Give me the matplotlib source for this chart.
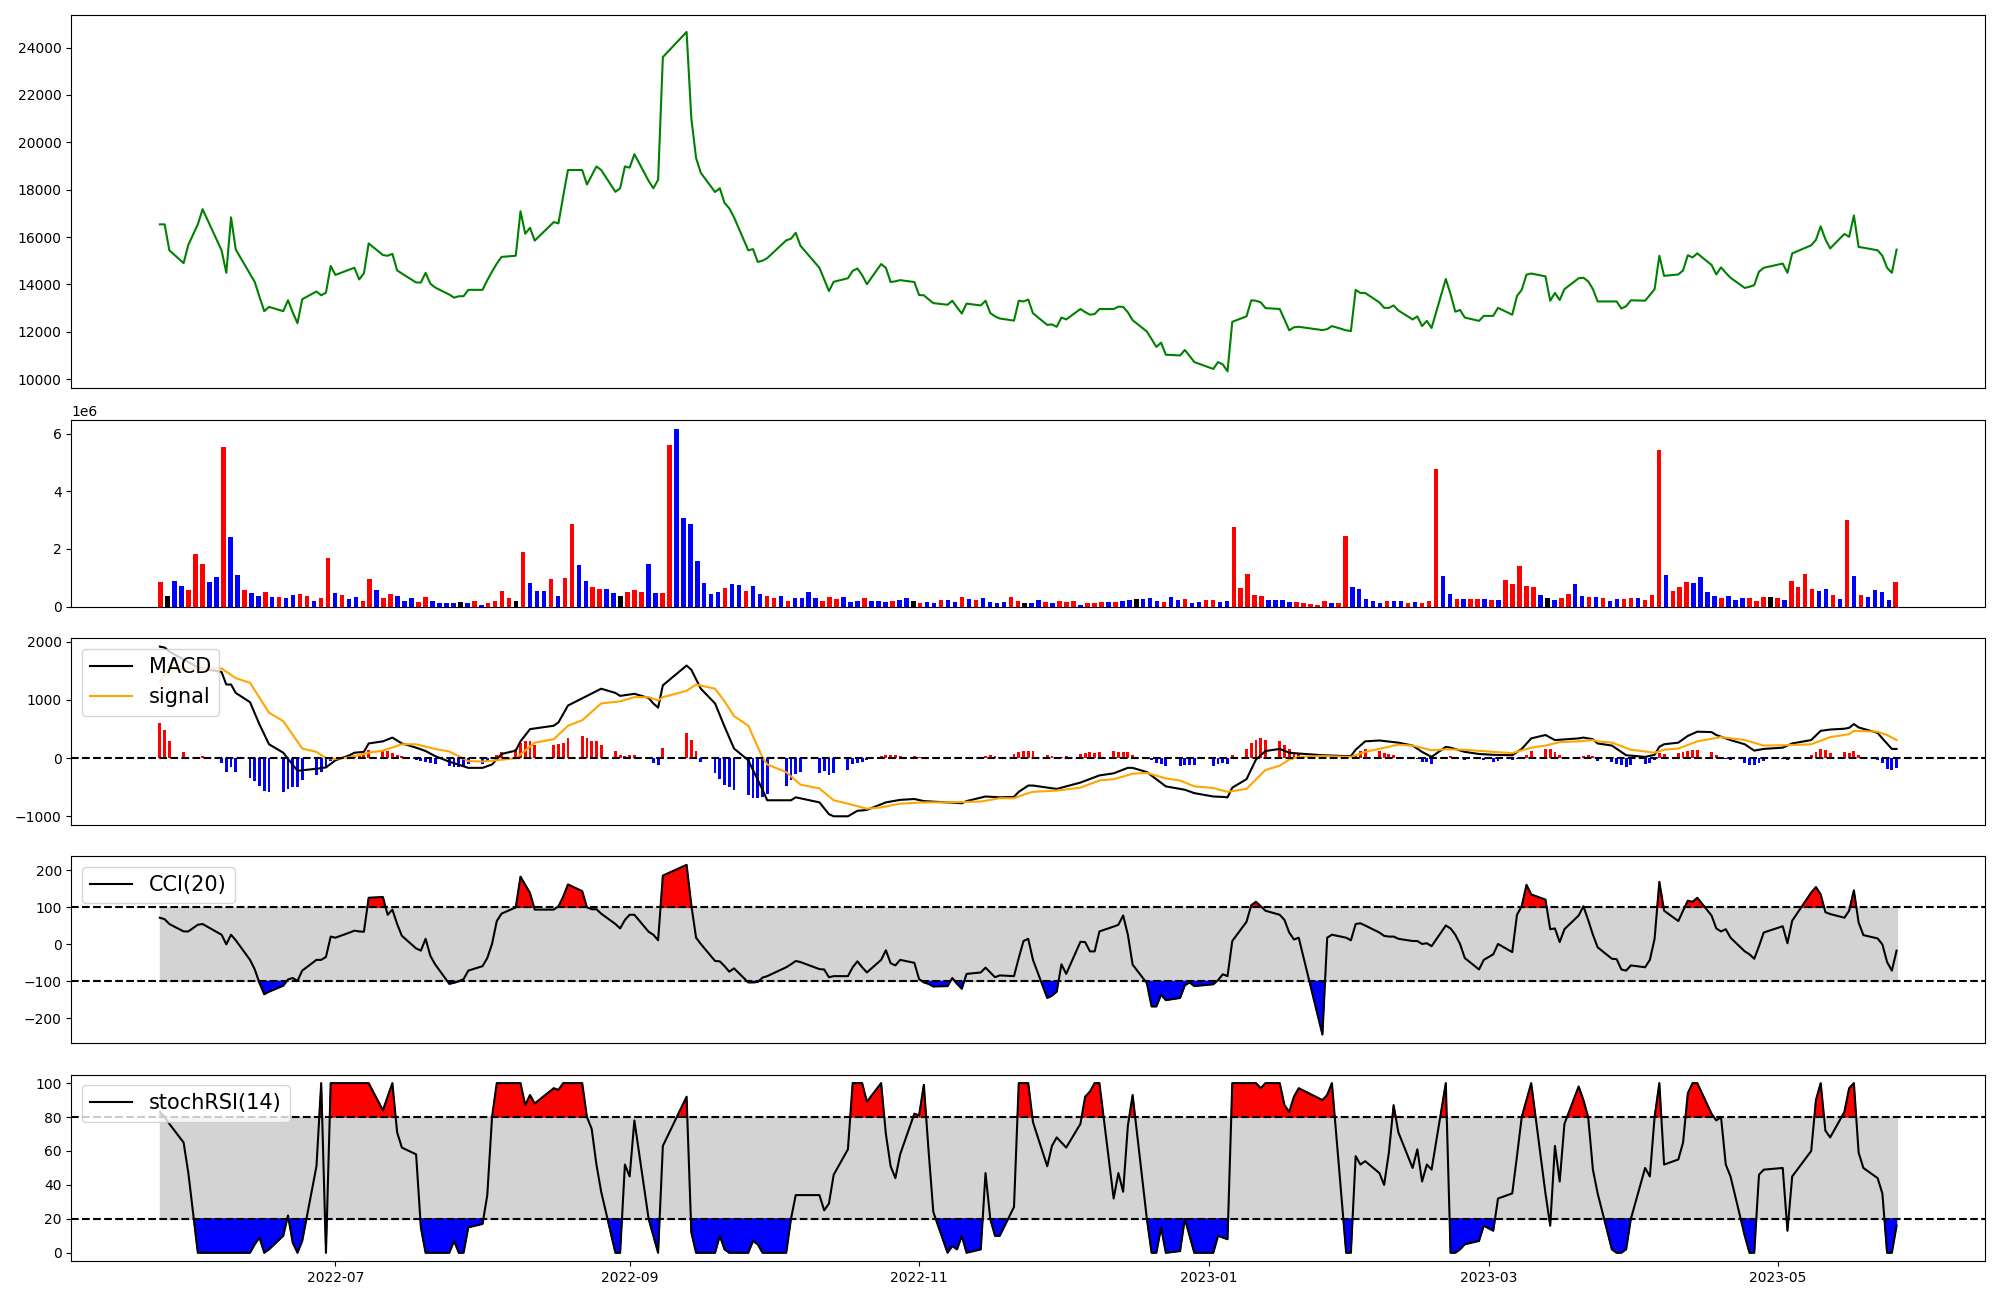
import matplotlib.pyplot as plt
import numpy as np
import pandas as pd

# KRX trading days, 2022-05-25 .. 2023-05-26
krx_holidays = ['2022-06-01', '2022-06-06', '2022-08-15', '2022-09-09', '2022-09-12',
                '2022-10-03', '2022-10-10', '2022-12-30', '2023-01-23', '2023-01-24',
                '2023-03-01', '2023-05-01', '2023-05-05']
dates = pd.bdate_range('2022-05-25', '2023-05-26')
dates = dates[~dates.isin(pd.to_datetime(krx_holidays))]

# closing price
close = [16535, 16535, 15440, 14900, 15670, 16535, 17175, 15440, 14490, 16830,
         15470, 14440, 14100, 13470, 12870, 13050, 12870, 13330, 12820, 12360,
         13375, 13700, 13540, 13650, 14780, 14400, 14630, 14700, 14210, 14470,
         15730, 15240, 15210, 15290, 14590, 14460, 14080, 14080, 14490, 14030,
         13870, 13570, 13440, 13500, 13500, 13770, 13770, 14180, 14540, 14880,
         15160, 15210, 17090, 16140, 16390, 15850, 16630, 16580, 17730, 18830,
         18830, 18220, 18600, 18980, 18830, 17910, 18060, 18980, 18930, 19500,
         18370, 18060, 18420, 23600, 24660, 21010, 19340, 18710, 17900, 18060,
         17440, 17210, 16830, 15440, 15490, 14950, 15000, 15110, 15860, 15930,
         16180, 15630, 14700, 14210, 13720, 14110, 14260, 14570, 14670, 14390,
         14010, 14860, 14700, 14100, 14130, 14180, 14100, 13550, 13540, 13370,
         13210, 13140, 13310, 13030, 12770, 13190, 13110, 13310, 12790, 12650,
         12560, 12470, 13310, 13280, 13360, 12780, 12290, 12310, 12210, 12600,
         12520, 12960, 12830, 12720, 12750, 12960, 12960, 13060, 13050, 12820,
         12490, 12010, 11690, 11360, 11540, 11030, 11000, 11230, 10980, 10720,
         10430, 10720, 10620, 10330, 12420, 12650, 13330, 13310, 13240, 13000,
         12960, 12520, 12060, 12190, 12210, 12070, 12110, 12240, 12060, 12030,
         13770, 13640, 13640, 13240, 13010, 13010, 13110, 12900, 12520, 12650,
         12240, 12460, 12160, 14230, 13590, 12850, 12920, 12600, 12460, 12670,
         12670, 13010, 12720, 13510, 13770, 14410, 14460, 14340, 13310, 13640,
         13340, 13800, 14260, 14280, 14130, 13800, 13280, 13280, 13280, 12980,
         13080, 13330, 13310, 13550, 13800, 15210, 14360, 14420, 14590, 15230,
         15140, 15310, 14820, 14420, 14720, 14490, 14280, 13850, 13900, 13970,
         14540, 14700, 14880, 14490, 15310, 15650, 15880, 16450, 15900, 15520,
         16130, 16010, 16910, 15580, 15550, 15440, 15210, 14700, 14490, 15470]

# volume in millions of shares, and bar colour (r = up, b = down, k = flat)
volume_m = [0.85, 0.35, 0.89, 0.71, 0.58, 1.83, 1.48, 0.85, 1.02, 5.55,
            2.40, 1.09, 0.58, 0.46, 0.35, 0.50, 0.32, 0.32, 0.28, 0.39,
            0.43, 0.35, 0.18, 0.28, 1.70, 0.46, 0.39, 0.26, 0.32, 0.18,
            0.96, 0.57, 0.28, 0.43, 0.35, 0.18, 0.28, 0.15, 0.32, 0.18,
            0.11, 0.11, 0.11, 0.15, 0.11, 0.18, 0.07, 0.11, 0.18, 0.53,
            0.28, 0.18, 1.90, 0.81, 0.53, 0.53, 0.96, 0.35, 0.98, 2.86,
            1.44, 0.89, 0.67, 0.61, 0.61, 0.46, 0.35, 0.50, 0.57, 0.50,
            1.48, 0.46, 0.46, 5.61, 6.17, 3.07, 2.86, 1.59, 0.81, 0.43,
            0.50, 0.63, 0.78, 0.74, 0.53, 0.71, 0.43, 0.35, 0.28, 0.35,
            0.18, 0.28, 0.28, 0.50, 0.28, 0.18, 0.32, 0.26, 0.32, 0.15,
            0.18, 0.28, 0.18, 0.18, 0.15, 0.18, 0.22, 0.28, 0.18, 0.11,
            0.15, 0.11, 0.22, 0.22, 0.15, 0.32, 0.26, 0.22, 0.28, 0.15,
            0.11, 0.15, 0.32, 0.18, 0.11, 0.11, 0.22, 0.15, 0.11, 0.18,
            0.15, 0.18, 0.07, 0.11, 0.11, 0.15, 0.15, 0.15, 0.18, 0.22,
            0.26, 0.26, 0.28, 0.18, 0.15, 0.32, 0.22, 0.26, 0.11, 0.15,
            0.22, 0.22, 0.15, 0.18, 2.75, 0.63, 1.13, 0.39, 0.35, 0.22,
            0.22, 0.22, 0.15, 0.15, 0.11, 0.09, 0.07, 0.18, 0.11, 0.11,
            2.45, 0.67, 0.61, 0.26, 0.18, 0.11, 0.18, 0.18, 0.18, 0.11,
            0.15, 0.11, 0.18, 4.76, 1.07, 0.43, 0.26, 0.26, 0.26, 0.26,
            0.26, 0.22, 0.22, 0.92, 0.78, 1.42, 0.71, 0.67, 0.39, 0.28,
            0.22, 0.28, 0.43, 0.78, 0.35, 0.32, 0.32, 0.28, 0.18, 0.26,
            0.26, 0.28, 0.28, 0.22, 0.39, 5.43, 1.09, 0.53, 0.67, 0.85,
            0.81, 1.02, 0.50, 0.35, 0.28, 0.35, 0.22, 0.28, 0.28, 0.18,
            0.32, 0.32, 0.28, 0.22, 0.89, 0.67, 1.13, 0.61, 0.53, 0.61,
            0.39, 0.26, 2.99, 1.07, 0.39, 0.32, 0.57, 0.50, 0.22, 0.85]
volume_dir = ("rkbbrrrbbrbbrbbrbrbbrrbrrbrbbrrbrrbbbrrbbb"
              "bkbrbrrrrkrbbbrbrrbbrrbbkrrrbbrrbbbbbbbrb"
              "brbbrrbrbbbbrrrbbbrbbbrbbkrbbrbbrbrbbbbrr"
              "kbbrbrrrbrrrbrbbkbbbrbbrbbrrbbrrrrrbbbbrrrr"
              "rbrrbbbbbrbbrbrrrbbrbrrbrbrrrrrbkbrrbbrbr"
              "bbrrbrrrbrrrbbbbrbbbrrrkrbrrrrbbrbrbrbbbbr")

# MACD / signal lines (trading-day index, value)
macd_idx = [0, 1, 2, 4, 5, 7, 8, 9, 10, 11, 13, 15, 16, 19, 21, 23, 25, 26, 27, 29,
            30, 31, 33, 35, 36, 38, 40, 41, 45, 46, 48, 50, 51, 52, 54, 56, 57, 59,
            61, 64, 65, 66, 69, 70, 71, 72, 73, 74, 75, 77, 78, 80, 82, 83, 86, 87,
            89, 90, 92, 94, 95, 96, 98, 100, 102, 105, 106, 108, 111, 114, 115, 117,
            120, 121, 122, 124, 125, 128, 131, 135, 136, 139, 140, 141, 143, 145,
            147, 149, 150, 152, 153, 154, 155, 157, 159, 160, 162, 164, 165, 168,
            169, 170, 172, 173, 177, 178, 180, 182, 183, 184, 187, 188, 190, 192,
            194, 196, 197, 199, 202, 203, 205, 206, 207, 210, 212, 214, 215, 216,
            217, 219, 221, 222, 223, 226, 227, 229, 231, 232, 234, 235, 237, 239,
            240, 241, 242, 243, 245, 246, 248, 249]
macd_val = [1916, 1900, 1830, 1650, 1560, 1480, 1265, 1265, 1120, 962, 578, 239, 94, -217,
            -181, -159, -36, 51, 94, 108, 253, 289, 354, 253, 181, 123, 36, -60, -166,
            -166, -108, 72, 130, 289, 499, 557, 615, 904, 1070, 1193, 1121, 1070, 1106,
            1034, 940, 868, 1251, 1591, 1518, 1193, 940, 542, 166, -36, -542, -723,
            -723, -672, -759, -962, -998, -998, -904, -889, -759, -716, -701, -737,
            -759, -774, -737, -658, -672, -665, -578, -470, -470, -528, -419, -296,
            -260, -166, -166, -239, -361, -484, -542, -600, -658, -665, -672, -506,
            -361, -22, 123, 159, 94, 80, 51, 36, 36, 145, 289, 304, 267, 217, 108, 22,
            195, 181, 108, 72, 58, 51, 159, 340, 398, 311, 340, 354, 325, 253, 217,
            51, 22, 58, 195, 239, 267, 383, 455, 448, 398, 311, 239, 130, 159, 181,
            253, 311, 470, 492, 506, 521, 586, 528, 434, 340, 159, 159]
signal_idx = [0, 2, 3, 7, 10, 11, 15, 16, 20, 21, 23, 25, 26, 30, 31, 35, 36, 40, 41, 45,
              46, 49, 51, 55, 56, 59, 60, 64, 66, 69, 70, 72, 73, 74, 76, 78, 80, 82,
              83, 86, 87, 88, 91, 92, 95, 96, 100, 101, 105, 108, 111, 116, 120, 121,
              124, 125, 128, 131, 135, 136, 140, 141, 145, 146, 149, 150, 153, 155,
              159, 160, 162, 164, 165, 169, 172, 177, 178, 182, 183, 187, 190, 192,
              196, 197, 200, 202, 205, 206, 207, 211, 214, 216, 217, 221, 224, 227,
              231, 233, 235, 239, 241, 242, 245, 247, 249]
signal_val = [1323, 1504, 1540, 1540, 1374, 1294, 781, 636, 166, 108, 0, -10, 14, 94, 130,
              239, 239, 159, 115, -51, -58, -36, 0, 267, 325, 557, 651, 940, 976, 1048,
              1048, 991, 1048, 1157, 1265, 1193, 976, 723, 557, 14, -108, -239, -455,
              -520, -723, -781, -868, -846, -781, -759, -759, -745, -687, -687, -600,
              -578, -557, -506, -383, -361, -267, -253, -347, -383, -484, -513, -578,
              -528, -202, -130, -22, 22, 36, 22, 108, 231, 217, 137, 152, 145, 108, 87,
              181, 217, 275, 289, 311, 289, 267, 145, 94, 145, 166, 289, 362, 311, 217,
              224, 239, 362, 412, 470, 455, 398, 311]

# MACD histogram, one bar per trading day
macd_hist = [600, 477, 289, 101, 5, 5, 29, -87, -231, -159,
             -231, -333, -398, -484, -564, -578, -578, -528, -492, -492,
             -383, -296, -231, -159, -40, 10, 20, 58, 36, 50,
             145, 145, 130, 87, 58, 29, -29, -51, -65, -80,
             -108, -140, -159, -159, -159, -108, -94, -58, -20, 51,
             108, 150, 267, 289, 289, 224, 224, 246, 267, 354,
             376, 340, 296, 289, 231, 123, 58, 43, 51, 51,
             0, -80, -123, 173, 441, 318, 116, -72, -246, -354,
             -455, -492, -542, -629, -680, -687, -672, -614, -484, -376,
             -267, -231, -253, -224, -289, -260, -202, -108, -80, -58,
             -36, 29, 58, 58, 58, 43, 36, 20, 15, 5,
             -5, -5, 0, 5, 10, 5, 20, 36, 51, 36,
             20, 80, 108, 123, 123, 116, 51, 36, 15, 20,
             29, 80, 87, 101, 94, 108, 116, 108, 108, 101,
             58, 0, -36, -80, -94, -137, -130, -116, -123, -116,
             -137, -108, -80, -94, 51, 166, 267, 311, 340, 311,
             289, 231, 152, 94, 72, 10, 10, 5, 5, 5,
             58, 116, 159, 130, 87, 72, 51, 14, 0, -14,
             -58, -72, -108, -20, 36, 10, 0, -29, -20, -36,
             -65, -51, -36, -20, 20, 58, 116, 159, 166, 101,
             58, 14, 0, 43, 58, 43, -40, -72, -108, -123,
             -145, -123, -108, -80, -36, 87, 72, 94, 108, 130,
             145, 145, 108, 51, 14, -10, -29, -87, -123, -123,
             -80, -43, -22, -36, 7, 58, 108, 166, 137, 94,
             108, 87, 130, 58, 10, -29, -80, -181, -202, -166]

cci = [72, 68, 55, 35, 35, 53, 55, 26, 0, 26,
       11, -42, -68, -105, -135, -128, -112, -95, -91, -99,
       -71, -42, -42, -34, 21, 18, 32, 37, 35, 34,
       126, 128, 80, 94, 55, 23, -11, -17, 15, -31,
       -54, -107, -104, -100, -94, -71, -59, -37, 1, 63,
       83, 100, 183, 161, 139, 94, 94, 103, 129, 162,
       144, 100, 95, 95, 83, 55, 43, 66, 80, 80,
       34, 26, 11, 186, 215, 106, 18, 1, -45, -46,
       -59, -74, -65, -103, -103, -102, -90, -86, -62, -54,
       -45, -48, -67, -68, -89, -86, -86, -62, -46, -62,
       -76, -42, -16, -51, -57, -42, -50, -94, -103, -107,
       -114, -113, -91, -107, -120, -80, -76, -63, -76, -89,
       -84, -86, -37, 9, 15, -42, -145, -139, -128, -54,
       -80, 7, 6, -19, -19, 35, 48, 53, 78, 26,
       -55, -105, -168, -168, -136, -151, -145, -111, -103, -113,
       -108, -97, -81, -86, 9, 61, 106, 115, 103, 91,
       80, 66, 32, 13, 18, -244, 18, 26, 18, 11,
       55, 57, 51, 32, 23, 21, 21, 15, 9, 9,
       1, 3, -5, 51, 43, 26, 1, -37, -68, -42,
       -27, 1, -21, 80, 103, 161, 135, 121, 41, 43,
       6, 41, 78, 103, 66, 26, -8, -39, -40, -68,
       -71, -57, -62, -42, 15, 169, 91, 63, 91, 118,
       115, 126, 78, 43, 35, 41, 18, -19, -27, -39,
       -5, 32, 49, 3, 64, 140, 155, 135, 87, 82,
       72, 91, 146, 59, 25, 16, 0, -48, -71, -17]

stoch_rsi = [83, 80, 76, 65, 47, 0, 0, 0, 0, 0,
             0, 0, 5, 9, 0, 2, 10, 22, 6, 0,
             7, 51, 100, 0, 100, 100, 100, 100, 100, 100,
             100, 84, 92, 100, 71, 62, 58, 15, 0, 0,
             0, 0, 7, 0, 0, 15, 17, 34, 80, 100,
             100, 100, 100, 87, 93, 88, 97, 96, 100, 100,
             100, 80, 73, 52, 36, 0, 0, 52, 45, 78,
             20, 10, 0, 63, 92, 12, 0, 0, 0, 10,
             2, 0, 0, 0, 7, 5, 0, 0, 0, 20,
             34, 34, 34, 25, 29, 46, 61, 100, 100, 100,
             89, 100, 70, 51, 44, 58, 82, 81, 99, 60,
             24, 0, 4, 2, 10, 0, 2, 47, 20, 10,
             10, 27, 100, 100, 100, 77, 51, 63, 68, 65,
             62, 76, 92, 95, 100, 100, 32, 47, 36, 75,
             93, 20, 0, 0, 15, 0, 1, 20, 10, 0,
             0, 10, 9, 8, 100, 100, 100, 100, 97, 100,
             100, 87, 83, 92, 97, 90, 93, 100, 0, 0,
             57, 52, 54, 47, 40, 59, 87, 71, 50, 61,
             42, 52, 49, 100, 0, 0, 2, 5, 7, 16,
             13, 32, 35, 57, 80, 90, 100, 35, 16, 63,
             42, 76, 98, 90, 80, 49, 35, 2, 0, 0,
             2, 20, 50, 45, 80, 100, 52, 55, 65, 94,
             100, 100, 82, 78, 80, 52, 45, 10, 0, 0,
             46, 49, 50, 13, 45, 60, 90, 100, 72, 68,
             83, 97, 100, 59, 50, 44, 35, 0, 0, 16]

color_map = {'r': 'red', 'b': 'blue', 'k': 'black'}

fig = plt.figure(figsize=(20, 13))
gs = fig.add_gridspec(5, 1, height_ratios=[2, 1, 1, 1, 1])
ax_price = fig.add_subplot(gs[0])
ax_vol = fig.add_subplot(gs[1])
ax_macd = fig.add_subplot(gs[2], sharex=ax_price)
ax_cci = fig.add_subplot(gs[3], sharex=ax_price)
ax_rsi = fig.add_subplot(gs[4], sharex=ax_price)

# price
ax_price.plot(dates, close, color='green')

# volume (plotted against bar number)
ax_vol.bar(np.arange(len(volume_m)), np.array(volume_m) * 1e6, width=0.65,
           color=[color_map[c] for c in volume_dir])
ax_vol.set_xticks([])

# MACD
hist = np.array(macd_hist)
ax_macd.bar(dates, hist, width=0.6, color=np.where(hist >= 0, 'red', 'blue'))
ax_macd.plot(dates[macd_idx], macd_val, color='black', label='MACD')
ax_macd.plot(dates[signal_idx], signal_val, color='orange', label='signal')
ax_macd.axhline(0, color='black', linestyle='--')
ax_macd.legend(loc='upper left', fontsize=15)

# CCI
c = np.array(cci)
ax_cci.fill_between(dates, -100, 100, color='lightgray')
ax_cci.fill_between(dates, c, 100, where=c >= 100, color='red', interpolate=True)
ax_cci.fill_between(dates, c, -100, where=c <= -100, color='blue', interpolate=True)
ax_cci.plot(dates, c, color='black', label='CCI(20)')
ax_cci.axhline(100, color='black', linestyle='--')
ax_cci.axhline(-100, color='black', linestyle='--')
ax_cci.legend(loc='upper left', fontsize=15)

# stochastic RSI
s = np.array(stoch_rsi)
ax_rsi.fill_between(dates, 20, 80, color='lightgray')
ax_rsi.fill_between(dates, s, 80, where=s >= 80, color='red', interpolate=True)
ax_rsi.fill_between(dates, s, 20, where=s <= 20, color='blue', interpolate=True)
ax_rsi.plot(dates, s, color='black', label='stochRSI(14)')
ax_rsi.axhline(80, color='black', linestyle='--')
ax_rsi.axhline(20, color='black', linestyle='--')
ax_rsi.legend(loc='upper left', fontsize=15)

for ax in (ax_price, ax_macd, ax_cci):
    ax.tick_params(axis='x', bottom=False, labelbottom=False)

fig.tight_layout()
fig.savefig('out.png', dpi=100)
